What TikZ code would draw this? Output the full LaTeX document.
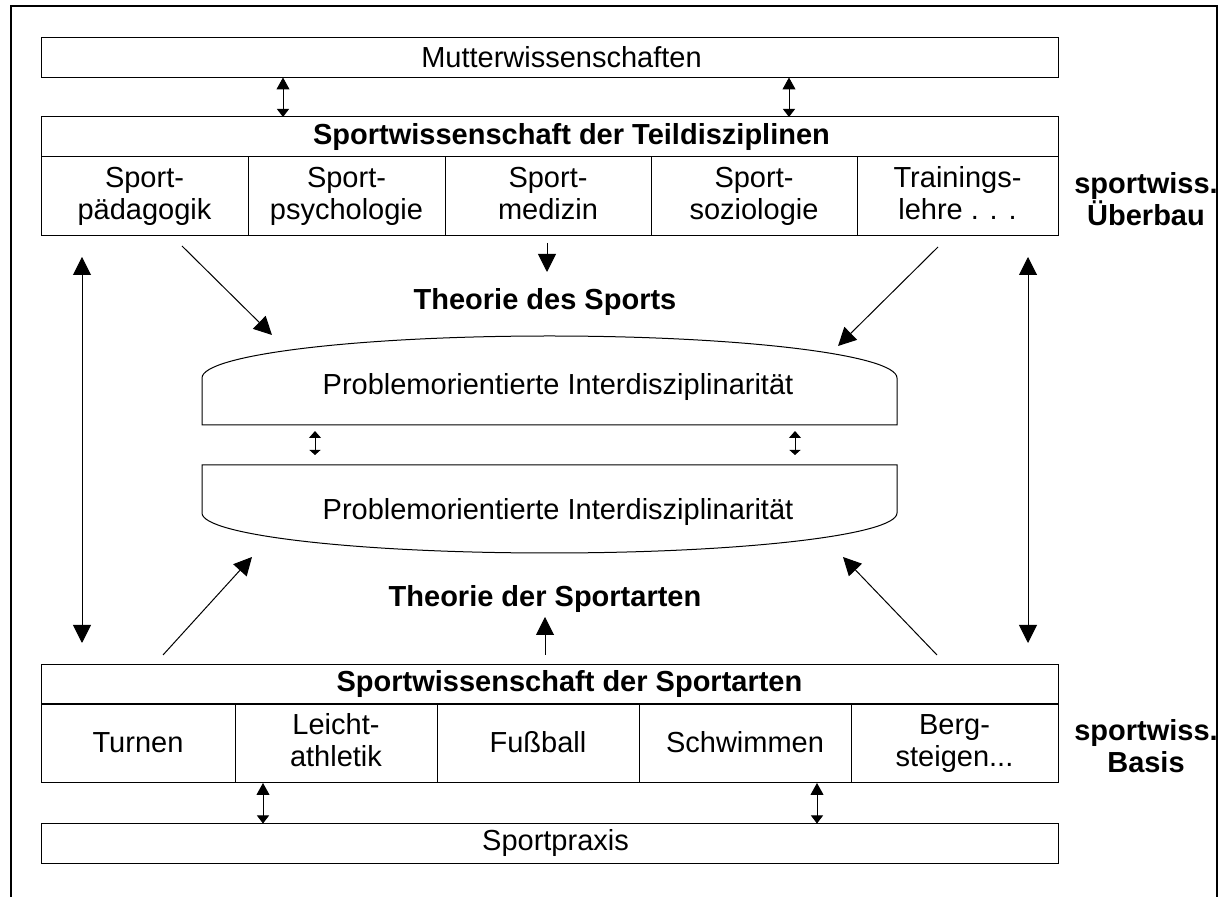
\documentclass[tikz,border=0pt]{standalone}
\usepackage{fontspec}
\setmainfont{Liberation Sans}
\usetikzlibrary{shapes,arrows.meta,positioning,calc}

\begin{document}
\begin{tikzpicture}[x=0.5pt,y=-0.5pt,
  every node/.style={font=\fontsize{14.5}{16}\selectfont, inner sep=0pt, outer sep=0pt},
  box/.style={rectangle, draw, line width=0.5pt, minimum height=20pt, minimum width=508.5pt},
  cell/.style={rectangle, draw, line width=0.5pt, minimum height=39.5pt, align=center,
    execute at begin node={\rule{0pt}{12.6pt}}, execute at end node={\rule[-3.1pt]{0pt}{3.1pt}}},
  lbl/.style={align=center, font=\fontsize{14.5}{16}\selectfont\bfseries},
  big/.style={line width=0.5pt, -{Triangle[length=9pt,width=9pt]}},
  bigdbl/.style={line width=0.5pt, {Triangle[length=9pt,width=9pt]}-{Triangle[length=9pt,width=9pt]}},
  dbl/.style={line width=0.5pt, {Triangle[length=6pt,width=6.5pt]}-{Triangle[length=4pt,width=6pt]}},
  dblsmall/.style={line width=0.5pt, {Triangle[length=3.5pt,width=6pt]}-{Triangle[length=2.5pt,width=5.5pt]}}]

\useasboundingbox (0,0) rectangle (1223,897);
\draw[line width=1pt] (11,900) -- (11,6.5) -- (1217,6.5) -- (1217,900);

\node[box] (mutter) at (549.5,57.5) {\hspace*{12pt}Mutterwissenschaften};
\node[box, font=\fontsize{14.5}{16}\selectfont\bfseries] (teil) at (549.5,137) {\hspace*{22pt}Sportwissenschaft der Teildisziplinen};
\node[cell, minimum width=103.5pt] (paed) at (144.5,196.5) {Sport-\\pädagogik};
\node[cell, minimum width=98.5pt] (psych) at (346.5,196.5) {Sport-\\psychologie};
\node[cell, minimum width=103pt] (med) at (548,196.5) {Sport-\\medizin};
\node[cell, minimum width=103pt] (soz) at (754,196.5) {Sport-\\soziologie};
\node[cell, minimum width=100.5pt] (train) at (957.5,196.5) {Trainings-\\lehre . . .};
\node[lbl] (ueberbau) at (1146,199) {sportwiss.\\Überbau};

\coordinate (m1) at (283,0);
\coordinate (m2) at (789,0);
\draw[dbl] (mutter.south -| m1) -- (teil.north -| m1);
\draw[dbl] (mutter.south -| m2) -- (teil.north -| m2);

\node[lbl] (tsport) at (545,302) {Theorie des Sports};
\coordinate (a1) at (182,246);
\coordinate (a2) at (272,335);
\coordinate (a3) at (547,243);
\coordinate (a4) at (547,272);
\coordinate (a5) at (938,247);
\coordinate (a6) at (838,346);
\draw[big] (a1) -- (a2);
\draw[big] (a3) -- (a4);
\draw[big] (a5) -- (a6);

\node (pi1) at (558,387) {Problemorientierte Interdisziplinarität};
\draw[line width=0.5pt] (202,425) -- (202,378) arc[start angle=180, end angle=0, x radius=173.75pt, y radius=21pt] -- (897,425) -- cycle;
\node (pi2) at (558,512) {Problemorientierte Interdisziplinarität};
\draw[line width=0.5pt] (202,465) -- (202,513) arc[start angle=180, end angle=360, x radius=173.75pt, y radius=20pt] -- (897,465) -- cycle;
\coordinate (p1) at (315,431);
\coordinate (p2) at (315,455);
\coordinate (p3) at (795,431);
\coordinate (p4) at (795,455);
\draw[dblsmall] (p1) -- (p2);
\draw[dblsmall] (p3) -- (p4);

\coordinate (l1) at (82,257);
\coordinate (l2) at (82,643);
\coordinate (r1) at (1028,257);
\coordinate (r2) at (1028,643);
\draw[bigdbl] (l1) -- (l2);
\draw[bigdbl] (r1) -- (r2);

\node[lbl] (tarten) at (545,599) {Theorie der Sportarten};
\coordinate (b1) at (163,655);
\coordinate (b2) at (252,557);
\coordinate (b3) at (545,655);
\coordinate (b4) at (545,617);
\coordinate (b5) at (937,655);
\coordinate (b6) at (843,557);
\draw[big] (b1) -- (b2);
\draw[big] (b3) -- (b4);
\draw[big] (b5) -- (b6);

\node[box, font=\fontsize{14.5}{16}\selectfont\bfseries] (arten) at (549.5,684.5) {\hspace*{20pt}Sportwissenschaft der Sportarten};
\node[cell, minimum width=97pt] (turnen) at (138,743.5) {Turnen};
\node[cell, minimum width=101pt] (leicht) at (336,743.5) {Leicht-\\athletik};
\node[cell, minimum width=101pt] (fuss) at (538,743.5) {Fußball};
\node[cell, minimum width=106pt] (schwimm) at (745,743.5) {Schwimmen};
\node[cell, minimum width=103.5pt] (berg) at (954.5,743.5) {Berg-\\steigen...};
\node[lbl] (basis) at (1146,746) {sportwiss.\\Basis};

\node[box] (praxis) at (549.5,843.5) {\hspace*{6pt}Sportpraxis};
\coordinate (s1) at (263,0);
\coordinate (s2) at (817,0);
\draw[dbl] (leicht.south -| s1) -- (praxis.north -| s1);
\draw[dbl] (schwimm.south -| s2) -- (praxis.north -| s2);
\end{tikzpicture}
\end{document}
